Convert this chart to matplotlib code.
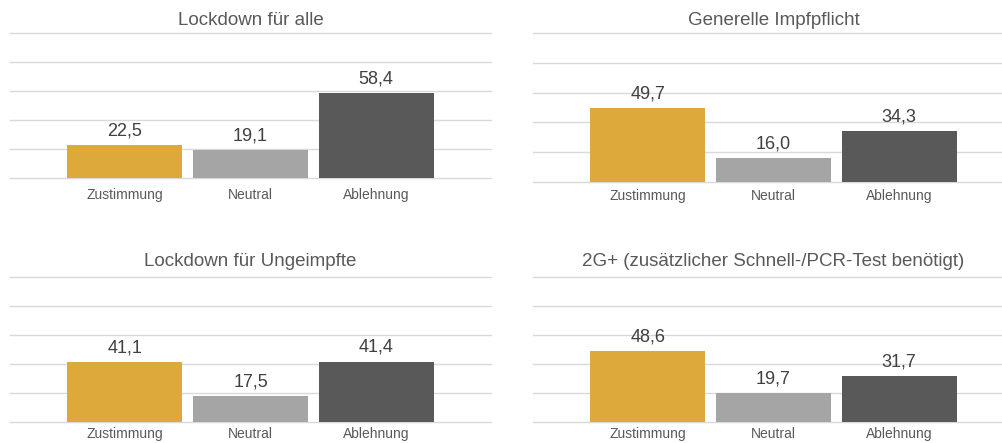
import matplotlib
matplotlib.use("Agg")
import matplotlib.pyplot as plt

plt.rcParams['font.family'] = ['Liberation Sans', 'DejaVu Sans']

categories = ["Zustimmung", "Neutral", "Ablehnung"]
titles = ["Lockdown für alle", "Generelle Impfpflicht",
          "Lockdown für Ungeimpfte", "2G+ (zusätzlicher Schnell-/PCR-Test benötigt)"]
values_lockdown_alle = [22.5, 19.1, 58.4]
values_impfpflicht = [49.7, 16.0, 34.3]
values_lockdown_ungeimpfte = [41.1, 17.5, 41.4]
values_2g_plus = [48.6, 19.7, 31.7]
all_values = [values_lockdown_alle, values_impfpflicht,
              values_lockdown_ungeimpfte, values_2g_plus]

colors = ["#DDA93A", "#A5A5A5", "#595959"]

W, H = 1003, 443
fig = plt.figure(figsize=(W / 100, H / 100), dpi=100)

# axes boxes in pixels: (left, top, right, bottom)
boxes = [
    (10, 33, 491, 178),
    (533, 33, 1014, 182),
    (10, 276.7, 491, 421.5),
    (533, 276.7, 1014, 421.5),
]
title_pads = [5.8, 5.8, 7.7, 7.4]
tick_pads = [7.0, 5.0, 4.2, 4.2]

for box, title, vals, pad, tpad in zip(boxes, titles, all_values, title_pads, tick_pads):
    l, t, r, b = box
    ax = fig.add_axes([l / W, 1 - b / H, (r - l) / W, (b - t) / H])
    x = range(len(categories))
    ax.bar(x, vals, width=0.916, color=colors, zorder=3)
    ax.set_ylim(0, 100)
    ax.set_xlim(-0.916, 2.916)
    ax.set_yticks([0, 20, 40, 60, 80, 100])
    ax.yaxis.grid(True, color="#D9D9D9", linewidth=1.0, zorder=0)
    for gl in ax.get_ygridlines():
        gl.set_clip_on(False)
    ax.set_axisbelow(True)
    for s in ax.spines.values():
        s.set_visible(False)
    ax.tick_params(axis='y', left=False, labelleft=False)
    ax.set_xticks(list(x))
    ax.set_xticklabels(categories, fontsize=10, color="#595959")
    ax.tick_params(axis='x', length=0, pad=tpad)
    for xi, v in zip(x, vals):
        ax.annotate(f"{v:.1f}".replace(".", ","), (xi, v), xytext=(0, 4),
                    textcoords="offset points", ha="center", va="bottom",
                    fontsize=13, color="#404040")
    ax.set_title(title, fontsize=13.5, color="#595959", pad=pad)

fig.savefig("out.png", dpi=100)
